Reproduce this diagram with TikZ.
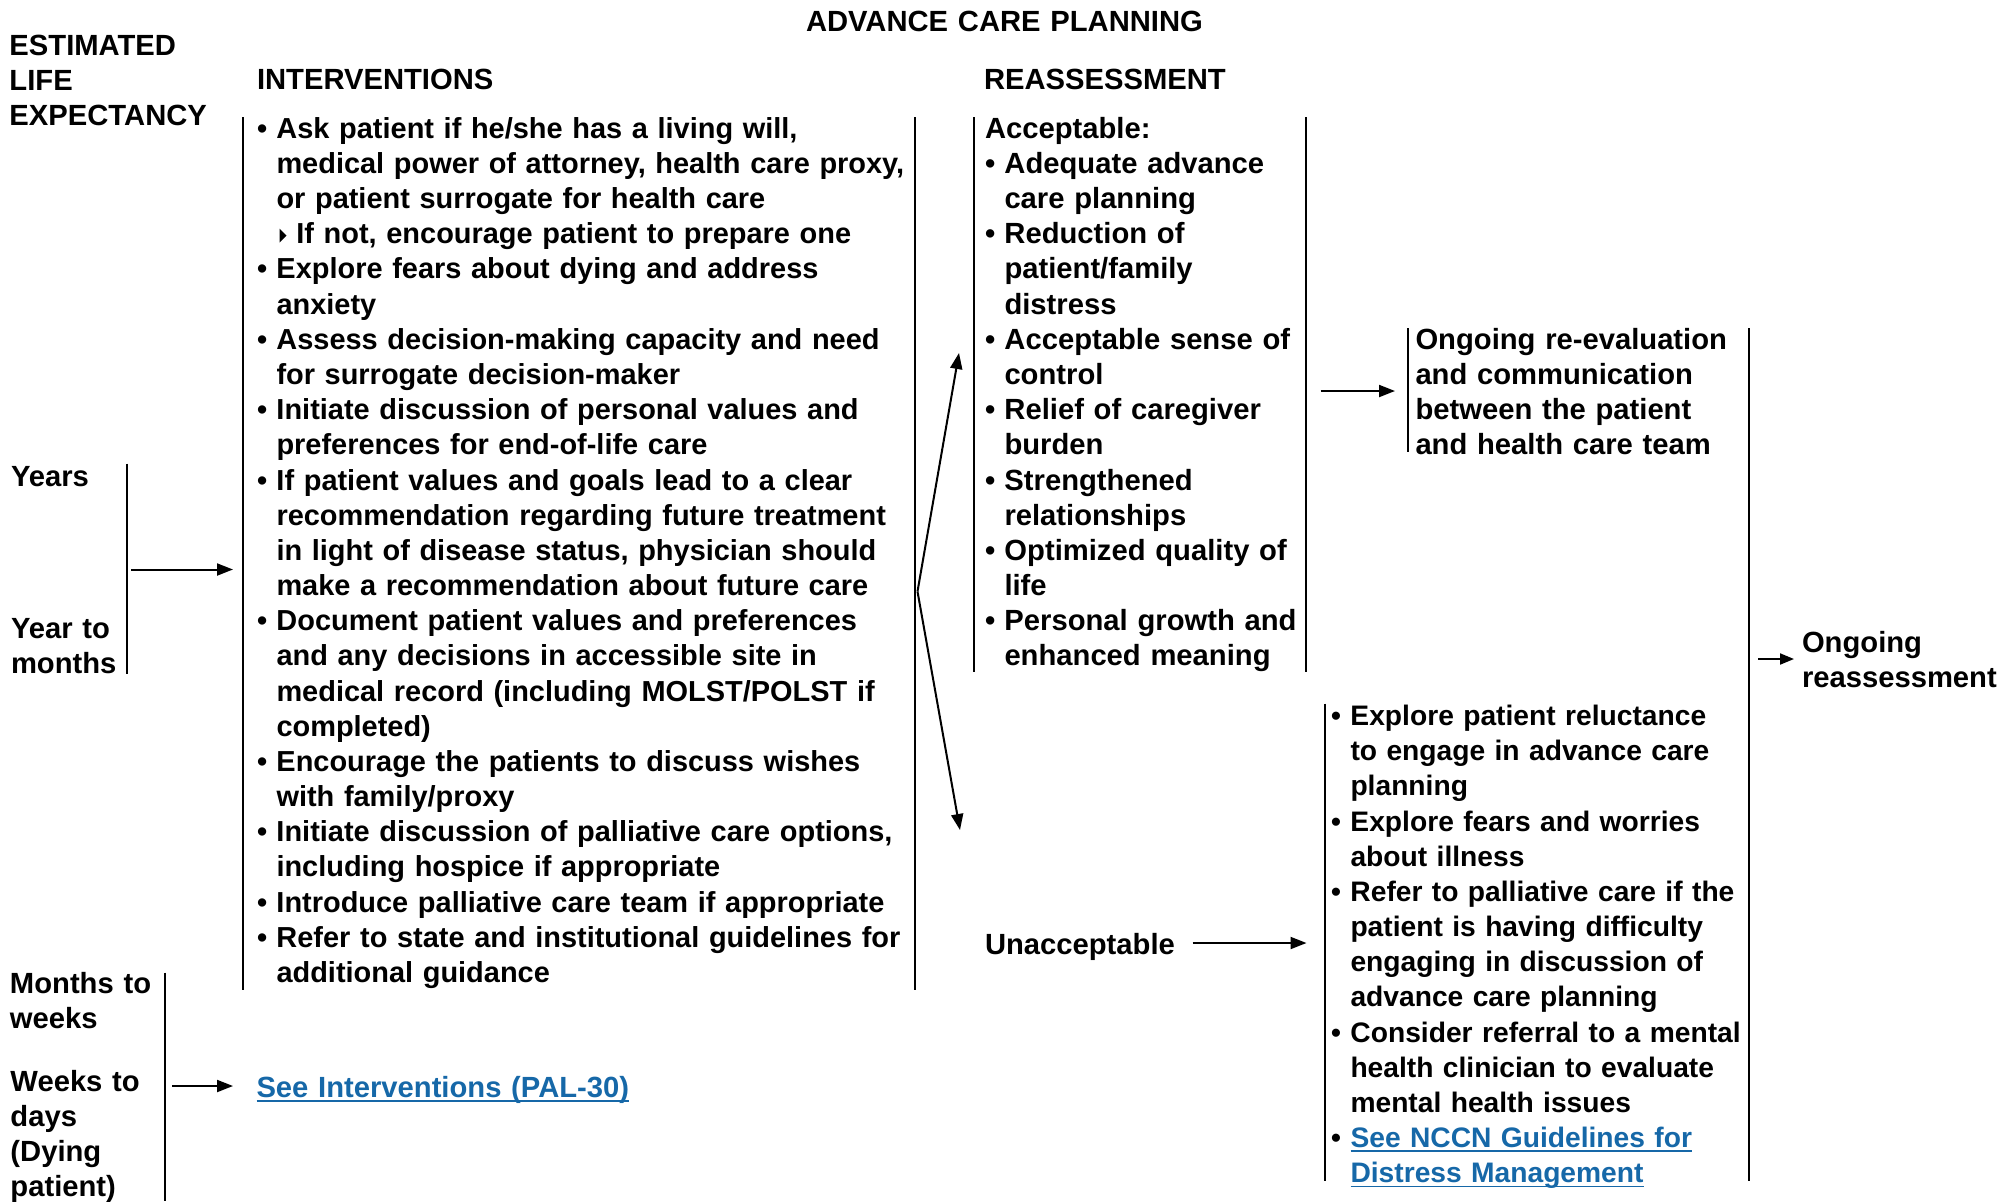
\documentclass[tikz,border=0pt]{standalone}
\usepackage{fontspec}
\setmainfont{Liberation Sans}
\usetikzlibrary{arrows.meta}
\definecolor{linkblue}{RGB}{22,104,168}
\newcommand{\bl}{\makebox[9.75pt][l]{•}}
\newcommand{\ind}{\hspace*{9.75pt}}
\newcommand{\lnk}[1]{{\color{linkblue}\setbox0\hbox{#1}\rlap{\rule[-2.3pt]{\wd0}{0.85pt}}\box0}}
\begin{document}
\begin{tikzpicture}[x=0.5pt,y=-0.5pt,
  txt/.style={anchor=base west, inner sep=0pt, outer sep=0pt, align=left,
    text width=#1, font=\fontsize{14.6pt}{17.585pt}\selectfont\bfseries},
  txt/.default=340pt,
  bar/.style={line width=1pt},
  arr/.style={line width=1pt,-{Triangle[length=8pt,width=6pt]}},
  sarr/.style={line width=1pt,-{Triangle[length=7pt,width=5.5pt]}}]
\useasboundingbox (0,0) rectangle (1999,1201);

% headings
\node[txt=250pt] (title) at (806,31) {ADVANCE CARE PLANNING};
\node[txt=110pt] (hdrLE) at (9.5,55) {ESTIMATED\\LIFE\\EXPECTANCY};
\node[txt=150pt] (hdrInt) at (257,89.8) {INTERVENTIONS};
\node[txt=150pt] (hdrRe) at (984,89.8) {REASSESSMENT};

% life expectancy labels
\node[txt=80pt] (years) at (11,486) {Years};
\node[txt=80pt] (yearto) at (11,638) {Year to\\months};
\node[txt=100pt] (monthsto) at (10,993) {Months to\\weeks};
\node[txt=100pt] (weeksto) at (10.5,1091) {Weeks to\\days\\(Dying\\patient)};

% interventions
\node[txt=340pt, font=\fontsize{14.47pt}{17.585pt}\selectfont\bfseries] (interv) at (257,138.3) {%
\bl Ask patient if he/she has a living will,\\
\ind medical power of attorney, health care proxy,\\
\ind or patient surrogate for health care\\
\hspace*{19.7pt}If not, encourage patient to prepare one\\
\bl Explore fears about dying and address\\
\ind anxiety\\
\bl Assess decision-making capacity and need\\
\ind for surrogate decision-maker\\
\bl Initiate discussion of personal values and\\
\ind preferences for end-of-life care\\
\bl If patient values and goals lead to a clear\\
\ind recommendation regarding future treatment\\
\ind in light of disease status, physician should\\
\ind make a recommendation about future care\\
\bl Document patient values and preferences\\
\ind and any decisions in accessible site in\\
\ind medical record (including MOLST/POLST if\\
\ind completed)\\
\bl Encourage the patients to discuss wishes\\
\ind with family/proxy\\
\bl Initiate discussion of palliative care options,\\
\ind including hospice if appropriate\\
\bl Introduce palliative care team if appropriate\\
\bl Refer to state and institutional guidelines for\\
\ind additional guidance};
\fill (279.5,228.5) -- (286.5,235.5) -- (279.5,242.5) -- cycle;

\node[txt=250pt] (seeint) at (256.5,1097) {\lnk{See Interventions (PAL-30)}};

% reassessment: acceptable
\node[txt=170pt] (accept) at (985,138.3) {%
Acceptable:\\
\bl Adequate advance\\
\ind care planning\\
\bl Reduction of\\
\ind patient/family\\
\ind distress\\
\bl Acceptable sense of\\
\ind control\\
\bl Relief of caregiver\\
\ind burden\\
\bl Strengthened\\
\ind relationships\\
\bl Optimized quality of\\
\ind life\\
\bl Personal growth and\\
\ind enhanced meaning};

\node[txt=100pt] (unacc) at (985,954) {Unacceptable};

\node[txt=170pt] (ongoing) at (1415.5,349.3) {Ongoing re-evaluation\\and communication\\between the patient\\and health care team};

\node[txt=220pt, font=\fontsize{14.1pt}{17.585pt}\selectfont\bfseries] (unbox) at (1331,725.5) {%
\bl Explore patient reluctance\\
\ind to engage in advance care\\
\ind planning\\
\bl Explore fears and worries\\
\ind about illness\\
\bl Refer to palliative care if the\\
\ind patient is having difficulty\\
\ind engaging in discussion of\\
\ind advance care planning\\
\bl Consider referral to a mental\\
\ind health clinician to evaluate\\
\ind mental health issues\\
\bl \lnk{See NCCN Guidelines for}\\
\ind \lnk{Distress Management}};

\node[txt=99pt] (reass) at (1802,652.5) {Ongoing\\reassessment};

% bars
\coordinate (yb1) at (127,463.5);   \coordinate (yb2) at (127,674);
\coordinate (mb1) at (164.5,972.5); \coordinate (mb2) at (164.5,1201);
\coordinate (il1) at (242.5,117);   \coordinate (il2) at (242.5,990);
\coordinate (ir1) at (915,117);     \coordinate (ir2) at (915,990);
\coordinate (al1) at (973.5,117);   \coordinate (al2) at (973.5,672);
\coordinate (ar1) at (1306,117);    \coordinate (ar2) at (1306,672);
\coordinate (ol1) at (1408,328);    \coordinate (ol2) at (1408,452);
\coordinate (ul1) at (1324.5,703.5); \coordinate (ul2) at (1324.5,1181);
\coordinate (br1) at (1748.5,328);  \coordinate (br2) at (1748.5,1181);
\foreach \a/\b in {yb1/yb2,mb1/mb2,il1/il2,ir1/ir2,al1/al2,ar1/ar2,ol1/ol2,ul1/ul2,br1/br2}
  \draw[bar] (\a) -- (\b);

% arrows
\coordinate (ya) at (131,569.5);   \coordinate (yb) at (233,569.5);
\coordinate (wa) at (172,1086);    \coordinate (wb) at (233,1086);
\coordinate (vx) at (917.5,591.5);
\coordinate (upt) at (959,353);    \coordinate (dnt) at (960,830);
\coordinate (oa) at (1320.5,391);  \coordinate (ob) at (1395,391);
\coordinate (ua) at (1192.5,943);  \coordinate (ub) at (1306.5,943);
\coordinate (ra) at (1758,659);    \coordinate (rb) at (1794,659);
\draw[arr] (ya) -- (yb);
\draw[arr] (wa) -- (wb);
\draw[arr] (vx) -- (upt);
\draw[arr] (vx) -- (dnt);
\draw[arr] (oa) -- (ob);
\draw[arr] (ua) -- (ub);
\draw[sarr] (ra) -- (rb);
\end{tikzpicture}
\end{document}
